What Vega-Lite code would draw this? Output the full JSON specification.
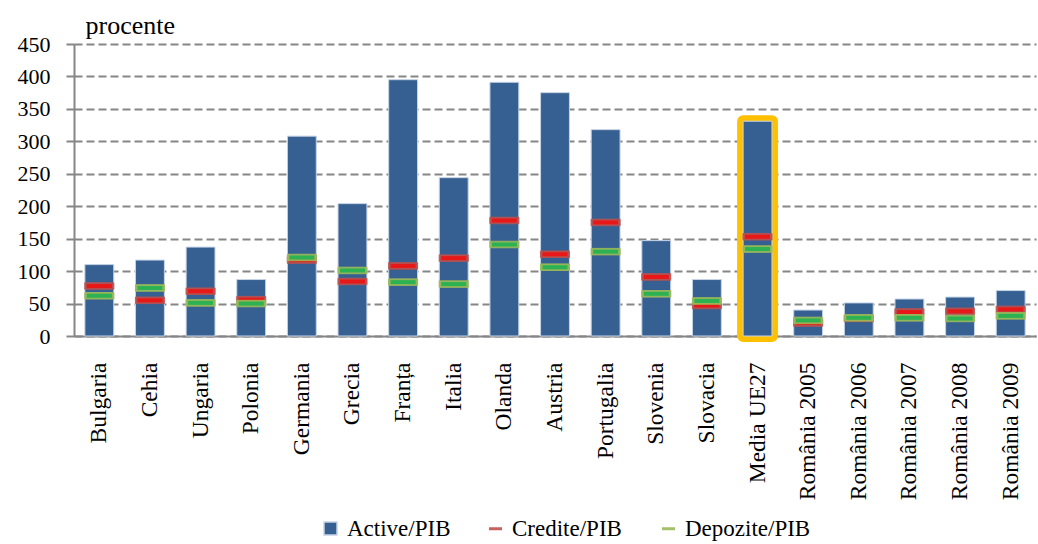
{
  "$schema": "https://vega.github.io/schema/vega-lite/v6.json",
  "width": 962,
  "height": 292,
  "autosize": "none",
  "padding": {"left": 74, "top": 44, "right": 2, "bottom": 208},
  "background": "white",
  "config": {
    "font": "'Liberation Serif', 'Times New Roman', serif",
    "view": {"stroke": null},
    "axisY": {
      "titleAngle": 0, "titleAlign": "left", "titleBaseline": "alphabetic",
      "titleX": 11, "titleY": -11, "titleFontSize": 26, "titleFontWeight": "normal", "titleColor": "black",
      "titleFont": "'Liberation Serif', 'Times New Roman', serif",
      "labelFontSize": 22, "labelColor": "black", "labelPadding": 16, "labelFont": "'Liberation Serif', 'Times New Roman', serif",
      "domainColor": "#868686", "domainWidth": 2,
      "tickColor": "#868686", "tickWidth": 2, "tickSize": 8,
      "gridColor": "#868686", "gridDash": [8, 4], "gridWidth": 2,
      "values": [0, 50, 100, 150, 200, 250, 300, 350, 400, 450]
    },
    "axisX": {
      "labelAngle": -90, "labelFontSize": 23.5, "labelColor": "black", "labelFont": "'Liberation Serif', 'Times New Roman', serif",
      "labelPadding": 26, "ticks": false, "tickSize": 0,
      "domainColor": "#868686", "domainWidth": 2, "grid": false, "title": null
    },
    "legend": {
      "labelFont": "'Liberation Serif', 'Times New Roman', serif", "labelFontSize": 23, "labelColor": "black",
      "labelOffset": 5, "padding": 0, "columnPadding": 34
    }
  },
  "data": {"values": [
    {"tara": "Bulgaria", "active": 110, "credite": 77, "depozite": 62},
    {"tara": "Cehia", "active": 117, "credite": 55, "depozite": 74},
    {"tara": "Ungaria", "active": 137, "credite": 69, "depozite": 51},
    {"tara": "Polonia", "active": 87, "credite": 56, "depozite": 50},
    {"tara": "Germania", "active": 308, "credite": 117, "depozite": 121},
    {"tara": "Grecia", "active": 204, "credite": 84, "depozite": 101},
    {"tara": "Franța", "active": 395, "credite": 108, "depozite": 83},
    {"tara": "Italia", "active": 244, "credite": 120, "depozite": 80},
    {"tara": "Olanda", "active": 391, "credite": 178, "depozite": 141},
    {"tara": "Austria", "active": 375, "credite": 126, "depozite": 106},
    {"tara": "Portugalia", "active": 318, "credite": 175, "depozite": 130},
    {"tara": "Slovenia", "active": 147, "credite": 91, "depozite": 65},
    {"tara": "Slovacia", "active": 87, "credite": 47, "depozite": 54},
    {"tara": "Media UE27", "active": 331, "credite": 153, "depozite": 134},
    {"tara": "România 2005", "active": 40, "credite": 20, "depozite": 24},
    {"tara": "România 2006", "active": 51, "credite": 27, "depozite": 28},
    {"tara": "România 2007", "active": 57, "credite": 37, "depozite": 28},
    {"tara": "România 2008", "active": 60, "credite": 38, "depozite": 27},
    {"tara": "România 2009", "active": 70, "credite": 41, "depozite": 31}
  ]},
  "encoding": {
    "x": {"field": "tara", "type": "nominal", "sort": null,
          "scale": {"paddingInner": 0.43, "paddingOuter": 0.215,
            "domain": ["Bulgaria", "Cehia", "Ungaria", "Polonia", "Germania", "Grecia", "Franța", "Italia", "Olanda", "Austria", "Portugalia", "Slovenia", "Slovacia", "Media UE27", "România 2005", "România 2006", "România 2007", "România 2008", "România 2009"]}}
  },
  "layer": [
    {
      "transform": [{"filter": "datum.tara === 'Media UE27'"}],
      "mark": {"type": "bar", "fill": "#FFC000", "stroke": "#FFC000", "strokeWidth": 12, "strokeJoin": "round"},
      "encoding": {
        "y": {"field": "active", "type": "quantitative", "title": "procente", "scale": {"domain": [0, 450]}}
      }
    },
    {
      "mark": {"type": "bar", "stroke": "#c5d3e6", "strokeWidth": 1},
      "encoding": {
        "y": {"field": "active", "type": "quantitative", "title": "procente", "scale": {"domain": [0, 450]}},
        "color": {"datum": "Active/PIB", "type": "nominal",
          "scale": {"domain": ["Active/PIB"], "range": ["#376092"]},
          "legend": {"orient": "none", "legendX": 245, "legendY": 473, "title": null,
                     "symbolType": "square", "symbolSize": 169, "direction": "horizontal"}}
      }
    },
    {
      "mark": {"type": "tick", "size": 29, "thickness": 6.5, "fill": "#C0504D", "strokeWidth": 1, "opacity": 0.9},
      "encoding": {
        "y": {"field": "credite", "type": "quantitative", "title": "procente"},
        "stroke": {"datum": "Credite/PIB", "type": "nominal",
          "scale": {"domain": ["Credite/PIB", "Depozite/PIB"], "range": ["#C0504D", "#9BBB59"]},
          "legend": {"orient": "none", "legendX": 410, "legendY": 473, "title": null,
                     "symbolType": "stroke", "symbolSize": 169, "symbolStrokeWidth": 3, "direction": "horizontal"}}
      }
    },
    {
      "mark": {"type": "tick", "size": 25, "thickness": 4, "color": "#FF0000"},
      "encoding": {
        "y": {"field": "credite", "type": "quantitative", "title": "procente"}
      }
    },
    {
      "mark": {"type": "tick", "size": 29, "thickness": 6.5, "fill": "#9BBB59", "strokeWidth": 1, "opacity": 0.95},
      "encoding": {
        "y": {"field": "depozite", "type": "quantitative", "title": "procente"},
        "stroke": {"datum": "Depozite/PIB", "type": "nominal"}
      }
    },
    {
      "mark": {"type": "tick", "size": 25, "thickness": 4, "color": "#00B050"},
      "encoding": {
        "y": {"field": "depozite", "type": "quantitative", "title": "procente"}
      }
    }
  ]
}
